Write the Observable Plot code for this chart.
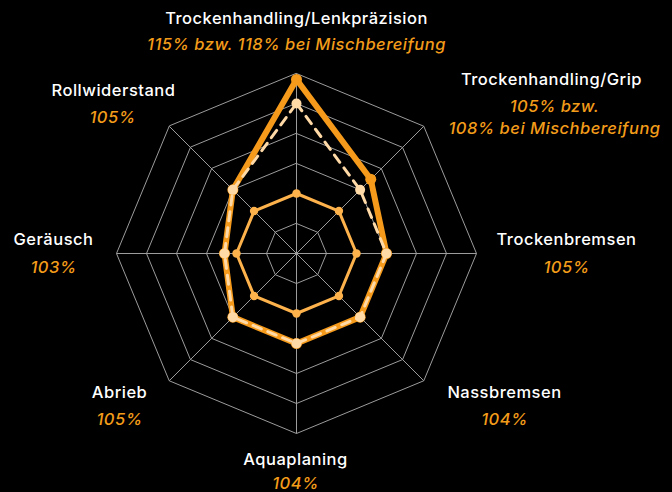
<!DOCTYPE html>
<html>
<head>
<meta charset="utf-8">
<script src="https://cdn.jsdelivr.net/npm/d3@7"></script>
<script src="https://cdn.jsdelivr.net/npm/@observablehq/plot@0.6"></script>
<style>
  html, body { margin: 0; padding: 0; background: #000; }
  #chart { width: 672px; height: 492px; }
</style>
</head>
<body>
<div id="chart"></div>
<script>
// ---- data ----
const axes = ["Trockenhandling/Lenkpräzision", "Trockenhandling/Grip", "Trockenbremsen", "Nassbremsen", "Aquaplaning", "Abrieb", "Geräusch", "Rollwiderstand"];
const valueLabels = ["115% bzw. 118% bei Mischbereifung", "105% bzw.\n108% bei Mischbereifung", "105%", "104%", "104%", "105%", "103%", "105%"];
const mixedTyres = [119, 107.5, 105, 105, 105, 105, 102, 105];   // thick solid
const singleTyres = [115, 105, 105, 105, 105, 105, 102, 105];    // dashed
const reference = [100, 100, 100, 100, 100, 100, 100, 100];      // thin inner
const ringValues = [95, 100, 105, 110, 115, 120];
const scaleMin = 90;

// ---- layout ----
const W = 672, H = 492, CX = 296, CY = 253, UNIT = 6; // px per percentage point
const nameLayout = [[296, 18], [551, 79], [566, 239], [504, 392], [295, 459], [119, 392], [53, 239], [113, 90]];
const valueLayout = [[296, 42], [554, 115], [566, 265.5], [504, 417.5], [295, 481], [119, 417.5], [53, 265.5], [112, 115.5]];
const FONT = "Inter, 'Liberation Sans', sans-serif";

const ang = i => i * Math.PI / 4;
const px = v => (v - CX) / UNIT;
const py = v => (CY - v) / UNIT;

const seriesRows = (vals, name) => vals.map((v, i) => ({series: name, i, v}));
const rx = d => (d.v - scaleMin) * Math.sin(ang(d.i));
const ry = d => (d.v - scaleMin) * Math.cos(ang(d.i));

const ringRows = ringValues.flatMap(r => axes.map((a, i) => ({ring: r, i, v: r})));
const spokeRows = axes.map((a, i) => ({i, v: ringValues[ringValues.length - 1]}));

const refRows = seriesRows(reference, "ref");
const mixRows = seriesRows(mixedTyres, "mix");
const singleRows = seriesRows(singleTyres, "single");

const nameRows = axes.map((a, i) => ({text: a, x: nameLayout[i][0], y: nameLayout[i][1]}));
const valueRows = valueLabels.map((t, i) => ({text: t, x: valueLayout[i][0], y: valueLayout[i][1]}));

const THICK = "#f59a1b", PEACH = "#ffd9a6", INNER = "#fdb24c", GRID = "#9c9c9c";

const chart = Plot.plot({
  width: W, height: H,
  margin: 0,
  style: {background: "#000", overflow: "visible"},
  x: {domain: [px(0), px(W)], range: [0, W], axis: null},
  y: {domain: [py(H), py(0)], range: [H, 0], axis: null},
  marks: [
    Plot.line(ringRows, {x: rx, y: ry, z: "ring", curve: "linear-closed", stroke: GRID, strokeWidth: 1}),
    Plot.link(spokeRows, {x1: 0, y1: 0, x2: rx, y2: ry, stroke: GRID, strokeWidth: 1}),
    Plot.line(refRows, {x: rx, y: ry, curve: "linear-closed", stroke: INNER, strokeWidth: 3, strokeLinejoin: "round"}),
    Plot.dot(refRows, {x: rx, y: ry, r: 4.2, fill: INNER, stroke: "none"}),
    Plot.line(mixRows, {x: rx, y: ry, curve: "linear-closed", stroke: THICK, strokeWidth: 6, strokeLinejoin: "miter"}),
    Plot.dot(mixRows, {x: rx, y: ry, r: 5.5, fill: THICK, stroke: "none"}),
    Plot.line(singleRows, {x: rx, y: ry, curve: "linear-closed", stroke: PEACH, strokeWidth: 3, strokeDasharray: "9,7"}),
    Plot.dot(singleRows, {x: rx, y: ry, r: 5, fill: PEACH, stroke: "none"}),
    Plot.text(nameRows, {x: d => px(d.x), y: d => py(d.y), text: "text", fill: "#fff", fontSize: 16.5, fontWeight: 500, fontFamily: FONT, textAnchor: "middle", lineAnchor: "middle"}),
    Plot.text(valueRows, {x: d => px(d.x), y: d => py(d.y), text: "text", fill: "#f39c1a", fontSize: 16.5, fontWeight: 500, fontFamily: FONT, fontStyle: "italic", textAnchor: "middle", lineAnchor: "middle", lineHeight: 1.34})
  ]
});
chart.querySelectorAll("text").forEach(t => t.style.letterSpacing = "0.5px");
document.getElementById("chart").appendChild(chart);
</script>
</body>
</html>
